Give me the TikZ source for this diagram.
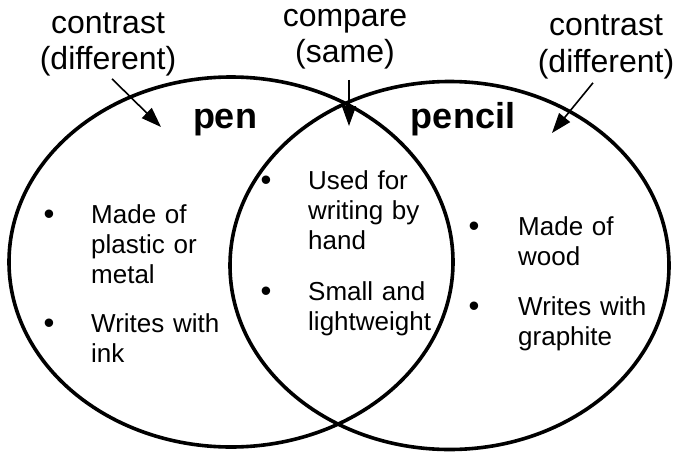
\documentclass[tikz,border=0pt]{standalone}
\usepackage{fontspec}
\setmainfont{Liberation Sans}
\usetikzlibrary{shapes.geometric, arrows.meta, positioning}

\begin{document}
\begin{tikzpicture}[x=1pt, y=-1pt,
    vennset/.style={draw, ellipse, line width=3.6pt, inner sep=0pt},
    heading/.style={font=\fontsize{32}{36}\selectfont, align=center, inner sep=0pt, anchor=base},
    setname/.style={font=\fontsize{36}{40}\selectfont\bfseries, inner sep=0pt, anchor=base},
    entry/.style={font=\fontsize{26}{30}\selectfont, text width=150pt, align=left, inner sep=0pt, anchor=base west},
    dot/.style={font=\fontsize{31}{30}\selectfont, inner sep=0pt, anchor=base, yshift=-1.5pt},
    pointer/.style={-{Triangle[length=20pt, width=14pt]}, line width=1.6pt}
]
    \useasboundingbox (0,0) rectangle (676,452);

    % the two sets
    \node (penset) [vennset, minimum width=444pt, minimum height=370pt] at (231,262) {};
    \node (pencilset) [vennset, minimum width=439pt, minimum height=368pt] at (449.5,265.5) {};

    % headings (base = last line)
    \node (diffA) [heading] at (108,70) {contrast\\(different)};
    \node (same) [heading] at (345,63) {compare\\(same)};
    \node (diffB) [heading] at (606,72) {contrast\\(different)};

    \node (pen) [setname] at (225,128) {pen};
    \node (pencil) [setname] at (463,128) {pencil};

    % pen only
    \node (penA) [entry] at (91,223) {Made of\\plastic or\\metal};
    \node (penB) [entry] at (91,332) {Writes with\\ink};
    % both
    \node (bothA) [entry] at (308,189) {Used for\\writing by\\hand};
    \node (bothB) [entry] at (308,300) {Small and\\lightweight};
    % pencil only
    \node (pencilA) [entry] at (518,235) {Made of\\wood};
    \node (pencilB) [entry] at (518,315) {Writes with\\graphite};

    \node (penAdot) [dot] at ([xshift=-42pt]penA.base west) {\textbullet};
    \node (penBdot) [dot] at ([xshift=-42pt]penB.base west) {\textbullet};
    \node (bothAdot) [dot] at ([xshift=-42pt]bothA.base west) {\textbullet};
    \node (bothBdot) [dot] at ([xshift=-42pt]bothB.base west) {\textbullet};
    \node (pencilAdot) [dot] at ([xshift=-44pt]pencilA.base west) {\textbullet};
    \node (pencilBdot) [dot] at ([xshift=-44pt]pencilB.base west) {\textbullet};

    % pointers
    \coordinate (penpt) at (161,127);
    \coordinate (bothpt) at (349,126);
    \coordinate (pencilpt) at (552,133);

    \draw [pointer] ([xshift=4pt, yshift=-2pt]diffA.south) -- (penpt);
    \draw [pointer] ([xshift=4pt, yshift=-10pt]same.south) -- (bothpt);
    \draw [pointer] ([xshift=-13pt, yshift=-4pt]diffB.south) -- (pencilpt);
\end{tikzpicture}
\end{document}
